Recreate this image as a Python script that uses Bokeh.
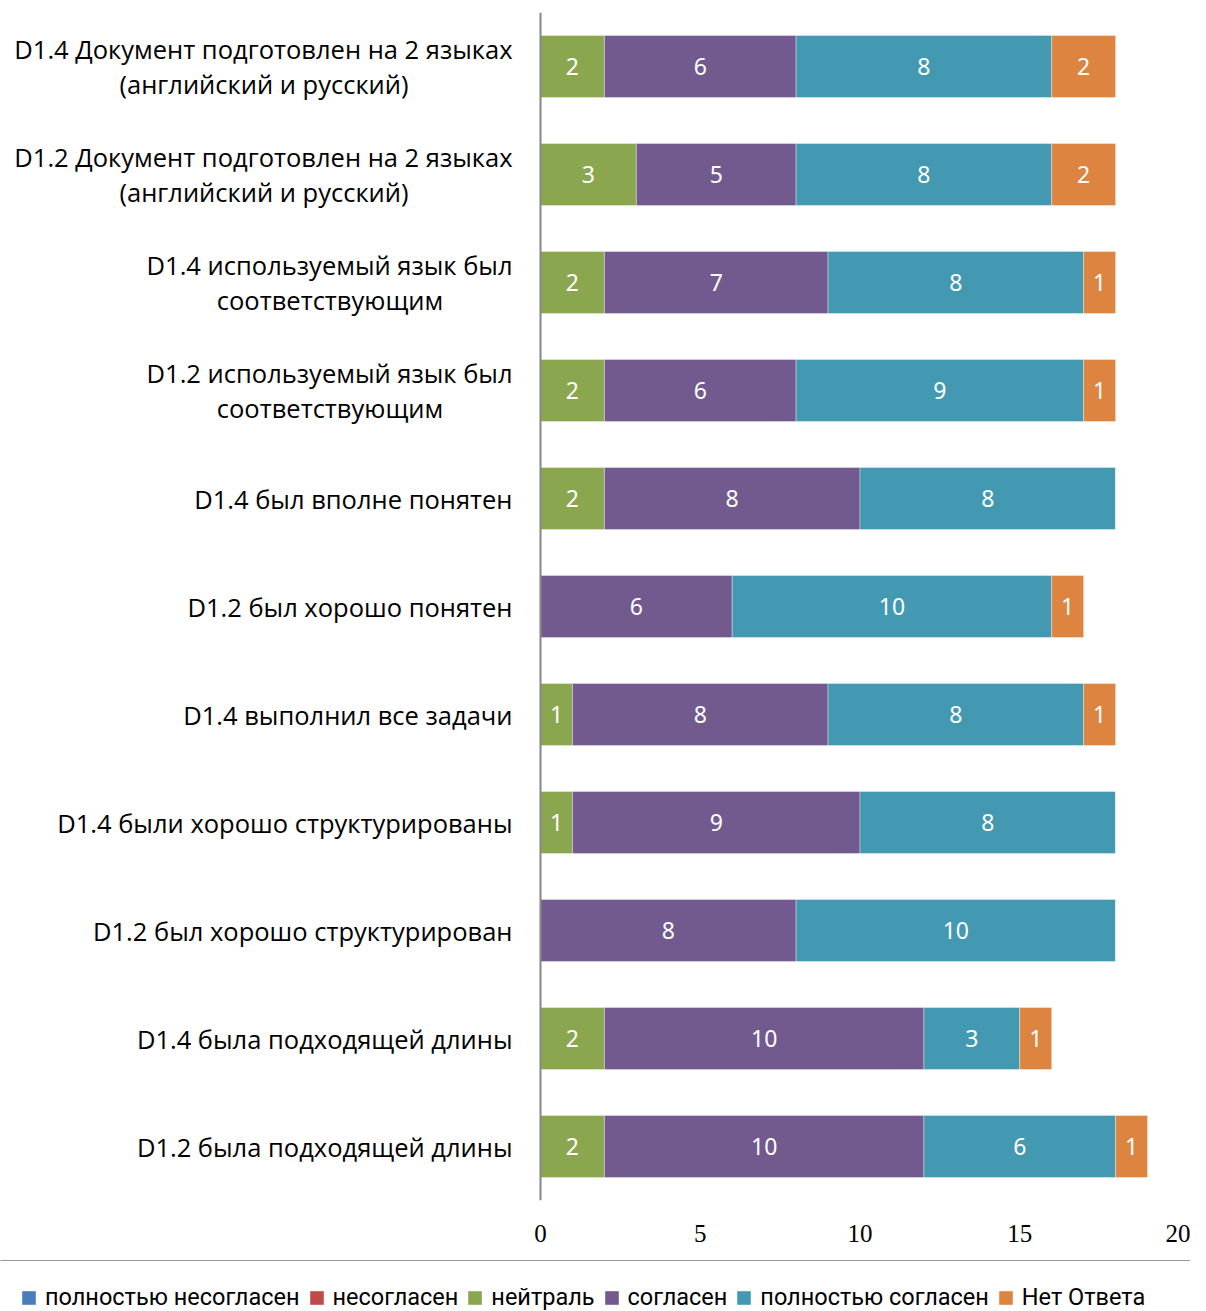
from bokeh.plotting import figure
from bokeh.layouts import column
from bokeh.models import ColumnDataSource, FactorRange, Range1d, Legend, LegendItem, FixedTicker, Span
from bokeh.core.properties import value
from bokeh.embed import file_html
from bokeh.resources import INLINE

categories = [
    "D1.4 Документ подготовлен на 2 языках (английский и русский)",
    "D1.2 Документ подготовлен на 2 языках (английский и русский)",
    "D1.4 используемый язык был соответствующим",
    "D1.2 используемый язык был соответствующим",
    "D1.4 был вполне понятен",
    "D1.2 был хорошо понятен",
    "D1.4 выполнил все задачи",
    "D1.4 были хорошо структурированы",
    "D1.2 был хорошо структурирован",
    "D1.4 была подходящей длины",
    "D1.2 была подходящей длины",
]
# how each category label is broken into lines in the chart
label_lines = [
    ["D1.4 Документ подготовлен на 2 языках", "(английский и русский)"],
    ["D1.2 Документ подготовлен на 2 языках", "(английский и русский)"],
    ["D1.4 используемый язык был", "соответствующим"],
    ["D1.2 используемый язык был", "соответствующим"],
    ["D1.4 был вполне понятен"],
    ["D1.2 был хорошо понятен"],
    ["D1.4 выполнил все задачи"],
    ["D1.4 были хорошо структурированы"],
    ["D1.2 был хорошо структурирован"],
    ["D1.4 была подходящей длины"],
    ["D1.2 была подходящей длины"],
]
series_names = ["полностью несогласен", "несогласен", "нейтраль", "согласен", "полностью согласен", "Нет Ответа"]
strongly_disagree = [0, 0, 0, 0, 0, 0, 0, 0, 0, 0, 0]
disagree =          [0, 0, 0, 0, 0, 0, 0, 0, 0, 0, 0]
neutral =           [2, 3, 2, 2, 2, 0, 1, 1, 0, 2, 2]
agree =             [6, 5, 7, 6, 8, 6, 8, 9, 8, 10, 10]
strongly_agree =    [8, 8, 8, 9, 8, 10, 8, 8, 10, 3, 6]
no_answer =         [2, 2, 1, 1, 0, 1, 1, 0, 0, 1, 1]
x_ticks = [0, 5, 10, 15, 20]

colors = ["#4A7EBB", "#BE4B48", "#8AA64E", "#725A8E", "#4399B1", "#DC8440"]
keys = ["s0", "s1", "s2", "s3", "s4", "s5"]
series = [strongly_disagree, disagree, neutral, agree, strongly_agree, no_answer]

data = {"cat": categories}
for k, s in zip(keys, series):
    data[k] = s
source = ColumnDataSource(data)

# geometry: value axis 0..20 occupies 639 px, starting 540 px from the left edge
AXIS_X0 = 540
AXIS_LEN = 639
FRAME_W = 1190
px_per_unit = AXIS_LEN / (x_ticks[-1] - x_ticks[0])

factors = list(reversed(categories))
p = figure(
    y_range=FactorRange(factors=factors),
    x_range=Range1d(-AXIS_X0 / px_per_unit, (FRAME_W - AXIS_X0) / px_per_unit),
    output_backend="svg", toolbar_location=None,
)
p.frame_width = FRAME_W
p.frame_height = 1188
p.min_border_left = 0
p.min_border_right = 0
p.min_border_top = 12
p.min_border_bottom = 60
p.outline_line_color = None
p.grid.grid_line_color = None
p.yaxis.visible = False

renderers = p.hbar_stack(keys, y="cat", height=0.574, color=colors, source=source,
                         line_color="white", line_width=0.6, line_alpha=0.6)

# value axis line at 0
p.add_layout(Span(location=0, dimension="height", line_color="#868686", line_width=2))

# labels inside bars
lx, ly, lt = [], [], []
for i, cat in enumerate(categories):
    left = 0
    for s in series:
        v = s[i]
        if v > 0:
            lx.append(left + v / 2)
            ly.append(cat)
            lt.append(str(v))
        left += v
p.text(x=lx, y=ly, text=lt, text_align="center", text_baseline="middle",
       text_color="white", text_font_size="23px", text_font=value("Noto Sans"))

# category labels: first line right aligned next to the axis, second line centred under it
second_centre_offset = {0: -276.5, 1: -276.5, 2: -210.5, 3: -210.5}
r_y, r_t, r_dy = [], [], []
c_y, c_t, c_dx = [], [], []
for i, (cat, lines) in enumerate(zip(categories, label_lines)):
    if len(lines) == 1:
        r_y.append(cat); r_t.append(lines[0]); r_dy.append(0)
    else:
        r_y.append(cat); r_t.append(lines[0]); r_dy.append(-18)
        c_y.append(cat); c_t.append(lines[1]); c_dx.append(second_centre_offset[i])
p.text(x=[0] * len(r_y), y=r_y, text=r_t, x_offset=-28, y_offset=r_dy,
       text_align="right", text_baseline="middle", text_color="black",
       text_font_size="25.5px", text_font=value("Open Sans"))
p.text(x=[0] * len(c_y), y=c_y, text=c_t, x_offset=c_dx, y_offset=17,
       text_align="center", text_baseline="middle", text_color="black",
       text_font_size="25.5px", text_font=value("Open Sans"))

# x axis: labels only
p.xaxis.axis_line_color = None
p.xaxis.major_tick_line_color = None
p.xaxis.minor_tick_line_color = None
p.xaxis.ticker = FixedTicker(ticks=x_ticks)
p.xaxis.major_label_text_font = "Liberation Serif"
p.xaxis.major_label_text_font_size = "25px"
p.xaxis.major_label_text_color = "black"
p.xaxis.major_label_standoff = 18

# legend strip underneath the chart (swatch renderers sit outside the strip's visible range)
lp = figure(width=FRAME_W, height=51, output_backend="svg", toolbar_location=None,
            x_range=Range1d(0, 1), y_range=Range1d(0, 1),
            x_axis_location=None, y_axis_location=None,
            min_border_left=0, min_border_right=0, min_border_top=0, min_border_bottom=0)
lp.outline_line_color = None
lp.grid.grid_line_color = None
legend_renderers = [lp.hbar(y=[5], left=[0], right=[1], height=0.5, fill_color=c, line_color=None)
                    for c in colors]
items = [LegendItem(label=n, renderers=[r]) for n, r in zip(series_names, legend_renderers)]
legend = Legend(items=items, orientation="horizontal", location=(20, 0),
                label_text_font="Roboto", label_text_font_size="23.5px", label_text_color="black",
                glyph_width=17, glyph_height=17, spacing=8, label_standoff=8,
                border_line_color=None, padding=0, margin=0,
                background_fill_alpha=0)
lp.add_layout(legend, "center")

layout = column(p, lp, spacing=0)
open("out.html", "w").write(file_html(layout, INLINE))
